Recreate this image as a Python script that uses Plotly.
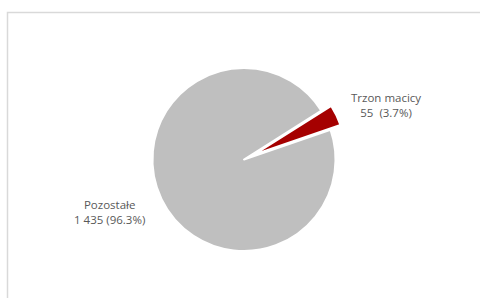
import plotly.graph_objects as go

labels = ["Trzon macicy", "Pozostałe"]
values = [55, 1435]
label_text = ["Trzon macicy<br>55  (3.7%)", "Pozostałe<br>1 435 (96.3%)"]
colors = ["#a50000", "#bfbfbf"]
pulls = [0.12, 0]

W, H = 480, 298
cx, cy, r = 244, 159.5, 91.5
half = r * (1 + max(pulls))

fig = go.Figure(go.Pie(
    labels=labels, values=values, sort=False, direction="clockwise",
    rotation=57.7, pull=pulls, textinfo="none", hoverinfo="label+value+percent",
    marker=dict(colors=colors, line=dict(color="white", width=2)),
    domain=dict(x=[(cx - half) / W, (cx + half) / W],
                y=[(H - cy - half) / H, (H - cy + half) / H]),
    showlegend=False,
))

fig.add_annotation(x=386 / W, y=1 - 105 / H, xref="paper", yref="paper",
                   xanchor="center", yanchor="middle",
                   text=label_text[0], showarrow=False,
                   font=dict(family="Open Sans", size=11.5, color="#595959"))
fig.add_annotation(x=109 / W, y=1 - 212 / H, xref="paper", yref="paper",
                   xanchor="center", yanchor="middle",
                   text=label_text[1], showarrow=False,
                   font=dict(family="Open Sans", size=11.5, color="#595959"))

fig.add_shape(type="rect", xref="paper", yref="paper",
              x0=7.5 / W, x1=1.02, y0=-0.02, y1=1 - 12.5 / H,
              line=dict(color="#d9d9d9", width=1.5), fillcolor="rgba(0,0,0,0)")

fig.update_layout(width=W, height=H, margin=dict(l=0, r=0, t=0, b=0),
                  paper_bgcolor="white", plot_bgcolor="white")

fig.write_html("out.html", config={"displayModeBar": False},
               post_script="document.body.style.margin='0';document.body.style.overflow='hidden';")
